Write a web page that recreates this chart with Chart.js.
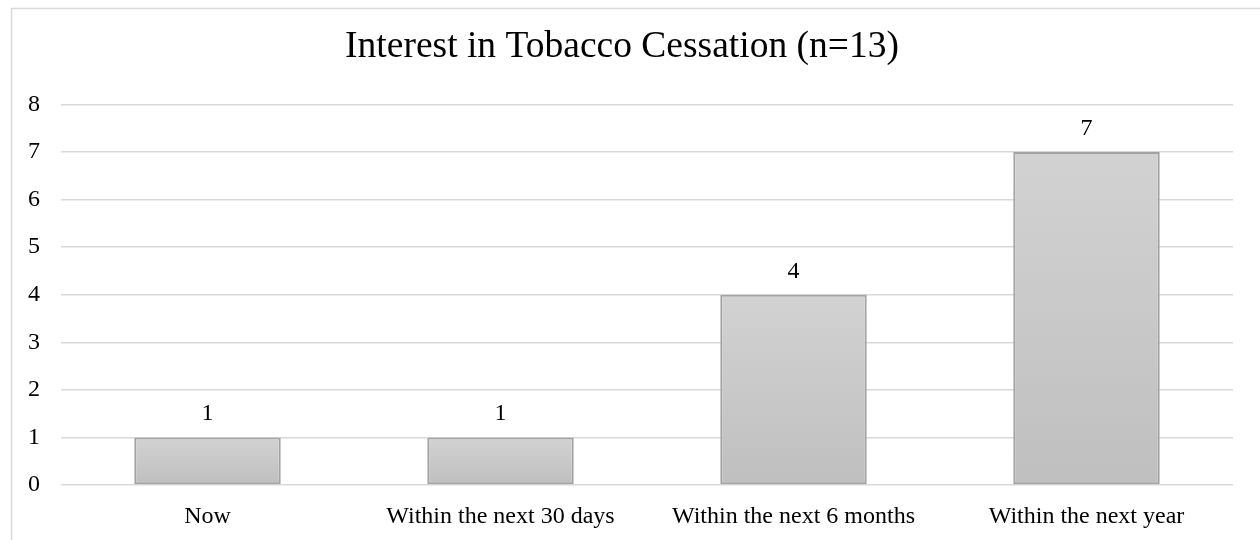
<!DOCTYPE html>
<html>
<head>
<meta charset="utf-8">
<script src="https://cdn.jsdelivr.net/npm/chart.js@4.4.0/dist/chart.umd.min.js"></script>
<style>
  html, body { margin: 0; padding: 0; background: #fff; }
  #wrap { position: relative; width: 1260px; height: 540px; }
</style>
</head>
<body>
<div id="wrap"><canvas id="chart" width="1260" height="540"></canvas></div>
<script>
// --- data ---
const categories = ['Now', 'Within the next 30 days', 'Within the next 6 months', 'Within the next year'];
const counts = [1, 1, 4, 7];
const yTicks = [0, 1, 2, 3, 4, 5, 6, 7, 8];

const FONT = "'Liberation Serif', 'Times New Roman', serif";

// outer chart frame (only left + top edge visible in the picture)
const framePlugin = {
    id: 'frame',
    beforeDraw(chart) {
        const ctx = chart.ctx;
        ctx.save();
        ctx.strokeStyle = '#d9d9d9';
        ctx.lineWidth = 1.5;
        ctx.beginPath();
        ctx.moveTo(11.5, 545);
        ctx.lineTo(11.5, 8.5);
        ctx.lineTo(1265, 8.5);
        ctx.stroke();
        ctx.restore();
    }
};

// value labels above bars
const valueLabels = {
    id: 'valueLabels',
    afterDatasetsDraw(chart) {
        const ctx = chart.ctx;
        const meta = chart.getDatasetMeta(0);
        ctx.save();
        ctx.font = '24px ' + FONT;
        ctx.fillStyle = '#000';
        ctx.textAlign = 'center';
        ctx.textBaseline = 'alphabetic';
        meta.data.forEach((bar, i) => {
            ctx.fillText(String(counts[i]), bar.x, bar.y - 17);
        });
        ctx.restore();
    }
};

// gradient per bar: lighter at the bar top, darker at its base
function barGradient(context) {
    const chart = context.chart;
    if (!chart.chartArea) return '#c8c8c8';
    const y = chart.scales.y;
    const top = y.getPixelForValue(counts[context.dataIndex]);
    const bottom = y.getPixelForValue(0);
    const g = chart.ctx.createLinearGradient(0, top, 0, bottom);
    g.addColorStop(0, '#d2d2d2');
    g.addColorStop(1, '#bfbfbf');
    return g;
}

const ctx = document.getElementById('chart').getContext('2d');
new Chart(ctx, {
    type: 'bar',
    data: {
        labels: categories,
        datasets: [{
            data: counts,
            backgroundColor: barGradient,
            borderColor: '#a3a3a3',
            borderWidth: 2,
            borderSkipped: false,
            barPercentage: 0.5,
            categoryPercentage: 1.0
        }]
    },
    options: {
        responsive: false,
        animation: false,
        layout: { padding: { left: 11, right: 27, top: 0, bottom: 0 } },
        plugins: {
            legend: { display: false },
            tooltip: { enabled: false },
            title: {
                display: true,
                text: 'Interest in Tobacco Cessation (n=13)',
                color: '#000',
                font: { family: FONT, size: 37.5, weight: 'normal' },
                padding: { top: 25, bottom: 34.5 }
            }
        },
        scales: {
            x: {
                grid: { display: false },
                border: { display: false },
                ticks: { color: '#000', font: { family: FONT, size: 24 }, padding: 9, maxRotation: 0 },
                afterFit(scale) { scale.height = 55; }
            },
            y: {
                min: 0,
                max: 8,
                afterBuildTicks(scale) { scale.ticks = yTicks.map(v => ({ value: v })); },
                grid: { color: '#d9d9d9', lineWidth: 1.5, drawTicks: false },
                border: { display: false },
                ticks: { color: '#000', font: { family: FONT, size: 24 }, padding: 21 },
                afterFit(scale) { scale.width = 50; }
            }
        }
    },
    plugins: [framePlugin, valueLabels]
});
</script>
</body>
</html>
